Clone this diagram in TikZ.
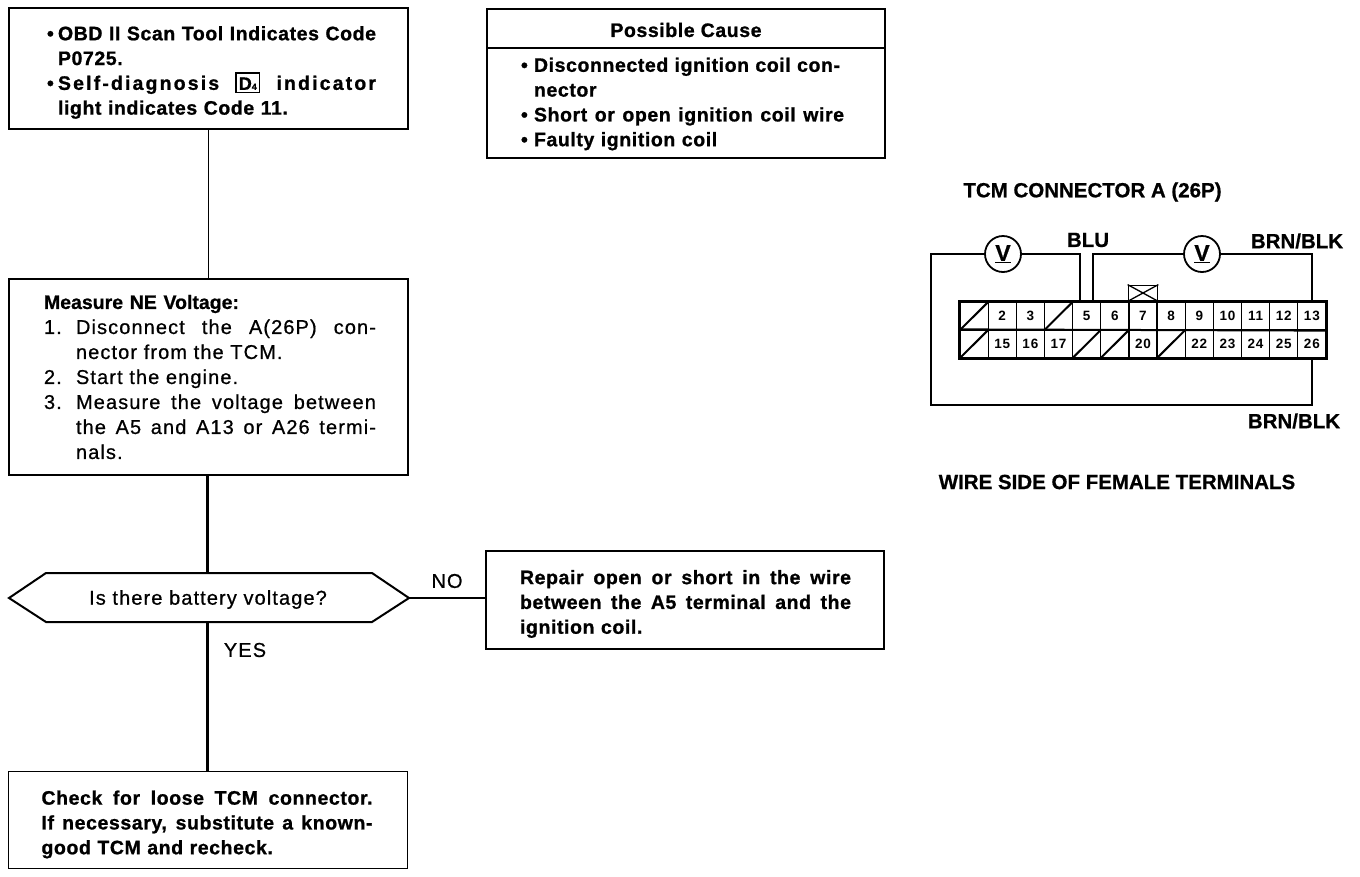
\documentclass[tikz,border=0pt]{standalone}
\usepackage{fontspec}
\setmainfont{Liberation Sans}
\newfontfamily\bodyfam{Liberation Sans}[LetterSpace=3,BoldFeatures={FakeBold=1}]
\newfontfamily\regfam{Liberation Sans}[LetterSpace=5.5,UprightFeatures={FakeBold=0.7}]
\newfontfamily\widefam{Liberation Sans}[LetterSpace=11,BoldFeatures={FakeBold=1}]
\newfontfamily\labfam{Liberation Sans}[BoldFeatures={FakeBold=0.7}]
\newfontfamily\cellfam{Liberation Sans}[LetterSpace=6]
\newcommand\lnj[3]{\makebox[0pt][l]{\hspace*{#1pt}\spaceskip=.3em plus 1fil\xspaceskip=\spaceskip\makebox[#2pt][s]{#3}}}
\newcommand\lnl[2]{\makebox[0pt][l]{\hspace*{#1pt}#2}}
\newcommand\hang[2]{\makebox[#1pt][l]{#2}}
\newcommand\drop[1]{\rule{0pt}{#1pt}}
\newcommand\dfour{{\setlength{\fboxsep}{2.2pt}\setlength{\fboxrule}{1.3pt}\fbox{\labfam\bfseries\rule{0pt}{14pt}\fontsize{18}{18}\selectfont D\fontsize{9}{9}\selectfont 4}}}
\tikzset{
  x=1pt,y=-1pt,
  flowbox/.style={draw=black,line width=1.9pt,inner sep=0pt,align=left,font=\fontsize{19.5}{24.8}\bodyfam\bfseries\selectfont},
  wire/.style={draw=black,line width=2pt},
  trunk/.style={draw=black,line width=2.5pt},
  thinwire/.style={draw=black,line width=1.1pt},
  midwire/.style={draw=black,line width=1.5pt},
  lab/.style={inner sep=0pt,font=\fontsize{20.5}{22}\labfam\bfseries\selectfont},
  reg/.style={inner sep=0pt,font=\fontsize{20}{22}\regfam\selectfont},
  cell/.style={draw=black,line width=1.2pt,minimum width=28.15pt,minimum height=28pt,inner sep=0pt,font=\fontsize{13.5}{13}\cellfam\bfseries\selectfont},
  meter/.style={circle,draw=black,line width=1.8pt,minimum size=36pt,inner sep=0pt,fill=white,font=\fontsize{23}{23}\labfam\bfseries\selectfont},
}
\begin{document}
\begin{tikzpicture}
\useasboundingbox (0,0) rectangle (1360,876);
% flow boxes
\node[flowbox,minimum width=399pt,minimum height=121pt,text width=399pt] (obd) at (208.5,68.5) {%
\drop{22}\lnj{38}{329}{\hang{11}{\textbullet}OBD II Scan Tool Indicates Code}\\
\lnl{49}{P0725.}\\
\lnj{38}{329}{\hang{11}{\textbullet}{\widefam\bfseries Self-diagnosis} \dfour{} {\widefam\bfseries indicator}}\\
\lnl{49}{light indicates Code 11.}};
\node[flowbox,minimum width=399pt,minimum height=196pt,text width=399pt,font=\fontsize{20}{25}\regfam\selectfont] (measure) at (208.5,377) {%
\lnl{35}{\labfam\bfseries\fontsize{19.5}{25}\selectfont Measure NE Voltage:}\\
\lnj{35}{332}{\hang{32}{1.}Disconnect the A(26P) con-}\\
\lnl{67}{nector from the TCM.}\\
\lnl{35}{\hang{32}{2.}Start the engine.}\\
\lnj{35}{332}{\hang{32}{3.}Measure the voltage between}\\
\lnj{67}{300}{the A5 and A13 or A26 termi-}\\
\lnl{67}{nals.}};
\node[flowbox,minimum width=399pt,minimum height=97pt,text width=399pt] (check) at (208,820) {%
\drop{23}\lnj{33}{331}{Check for loose TCM connector.}\\
\lnj{33}{331}{If necessary, substitute a known-}\\
\lnl{33}{good TCM and recheck.}};
\node[flowbox,minimum width=398pt,minimum height=98pt,text width=398pt] (repair) at (685,600) {%
\drop{22}\lnj{34}{331}{Repair open or short in the wire}\\
\lnj{34}{331}{between the A5 terminal and the}\\
\lnl{34}{ignition coil.}};
% decision
\coordinate (hw) at (9,598);
\coordinate (he) at (409,598);
\coordinate (hn) at (207.5,573);
\coordinate (hs) at (207.5,622);
\draw[wire] (hw) -- (46,573) -- (372,573) -- (he) -- (372,622) -- (46,622) -- cycle;
\node[reg] (q) at (208,599.5) {Is there battery voltage?};
% connectors
\draw[thinwire] (obd.south) -- (measure.north);
\draw[trunk] (hn|-measure.south) -- (hn);
\draw[trunk] (hs) -- (hs|-check.north);
\draw[thinwire] (he) -- (he-|repair.west);
\node[reg] (no) at (447,581) {NO};
\node[reg] (yes) at (245,650) {YES};
% possible cause
\node[flowbox,minimum width=398pt,minimum height=149pt,text width=398pt] (cause) at (686,83.5) {};
\coordinate (cl) at (487,48);
\coordinate (cr) at (885,48);
\draw[wire] (cl) -- (cr);
\node[inner sep=0pt,font=\fontsize{19.5}{20}\bodyfam\bfseries\selectfont] (causeh) at (686,30) {Possible Cause};
\node[inner sep=0pt,align=left,text width=398pt,font=\fontsize{19.5}{24.8}\bodyfam\bfseries\selectfont] (causet) at (686,104) {%
\lnj{34}{319}{\hang{13}{\textbullet}Disconnected ignition coil con-}\\
\lnl{47}{nector}\\
\lnj{34}{323}{\hang{13}{\textbullet}Short or open ignition coil wire}\\
\lnl{34}{\hang{13}{\textbullet}Faulty ignition coil}};
% connector diagram
\node[lab] (t1) at (1092.5,192) {TCM CONNECTOR A (26P)};
\node[lab] (t2) at (1117,482) {WIRE SIDE OF FEMALE TERMINALS};
\node[lab] (blu) at (1088,240) {BLU};
\node[lab] (bb1) at (1297,241) {BRN/BLK};
\node[lab] (bb2) at (1294,421) {BRN/BLK};
\foreach \i/\t in {1/,2/2,3/3,4/,5/5,6/6,7/7,8/8,9/9,10/10,11/11,12/12,13/13}{
  \node[cell] (c\i) at ({960+28.15*(\i-0.5)},316) {\t};
}
\foreach \i/\t in {14/,15/15,16/16,17/17,18/,19/,20/20,21/,22/22,23/23,24/24,25/25,26/26}{
  \node[cell] (c\i) at ({960+28.15*(\i-13.5)},344) {\t};
}
\foreach \i in {1,4,14,18,19,21}{
  \draw[line width=2pt] (c\i.south west) -- (c\i.north east);
}
\draw[wire] (c14.south west) rectangle (c13.north east);
\draw[wire] (c14.north west) -- (c13.south east);
\node[draw=black,line width=1.8pt,minimum width=29pt,minimum height=15pt,inner sep=0pt,anchor=south] (key) at (c7.north) {};
\draw[line width=1.3pt] (key.south west) -- (key.north east) (key.north west) -- (key.south east);
\node[meter] (v1) at (1003,254) {\underline{V}};
\node[meter] (v2) at (1202,254) {\underline{V}};
\coordinate (p1) at (1080,302);
\coordinate (p2) at (1093,302);
\draw[wire] (v1.east) -| (p1);
\draw[midwire] (v2.west) -| (p2);
\draw[midwire] (v2.east) -| (c13.north);
\draw[wire] (v1.west) -- (931,254) -- (931,405) -| (c26.south);
\end{tikzpicture}
\end{document}
